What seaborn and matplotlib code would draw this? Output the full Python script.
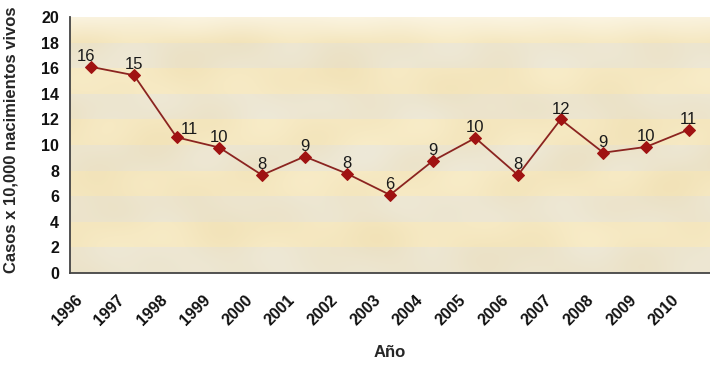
import numpy as np
import pandas as pd
import matplotlib
matplotlib.use('Agg')
import matplotlib.pyplot as plt
import seaborn as sns
from matplotlib.transforms import ScaledTranslation

years = ['1996', '1997', '1998', '1999', '2000', '2001', '2002', '2003',
         '2004', '2005', '2006', '2007', '2008', '2009', '2010']
rates = [16.1, 15.45, 10.6, 9.8, 7.65, 9.1, 7.75, 6.1,
         8.75, 10.55, 7.65, 12.0, 9.4, 9.85, 11.2]
point_labels = ['16', '15', '11', '10', '8', '9', '8', '6',
                '9', '10', '8', '12', '9', '10', '11']
y_ticks = [0, 2, 4, 6, 8, 10, 12, 14, 16, 18, 20]

sns.set_theme(style='white')
plt.rcParams['font.family'] = ['Liberation Sans', 'DejaVu Sans']

df = pd.DataFrame({'pos': np.arange(len(years)), 'rate': rates, 'year': years})

fig = plt.figure(figsize=(7.1, 3.66), dpi=100)
fig.patch.set_facecolor('white')
ax = fig.add_axes([70 / 710, 1 - 273 / 366, 640 / 710, 256 / 366])

# background: parchment with alternating bands
H, W = 256, 640
yy, xx = np.mgrid[0:H, 0:W].astype(float)
vals = 20 - (yy + 0.5) / H * 20
band = np.floor(vals / 2).astype(int)
light = np.array([248, 236, 200]) / 255
gray = np.array([238, 233, 216]) / 255
img = np.where((band % 2 == 1)[..., None], light, gray)
tex = (np.sin(xx / 37 + np.sin(yy / 23)) * np.cos(yy / 29 + xx / 61)
       + 0.6 * np.sin(xx / 17 + yy / 41) * np.sin(yy / 13 - xx / 53))
tex = (tex - tex.min()) / (tex.max() - tex.min())
tan = np.array([228, 205, 148]) / 255
img = img * (1 - 0.3 * tex[..., None]) + tan * 0.3 * tex[..., None]
fade = np.clip((vals - 18) / 2, 0, 1) * 0.5
img = img * (1 - fade[..., None]) + fade[..., None]
ax.imshow(img, extent=(-0.5, len(years) - 0.5, 0, 20), aspect='auto', zorder=0,
          interpolation='bilinear')

sns.lineplot(data=df, x='pos', y='rate', ax=ax, color='#8b2420', linewidth=1.3,
             marker='D', markersize=6, markerfacecolor='#a01212',
             markeredgecolor='#a01212', zorder=3)

# label nudges (points) for the labels that sit off-centre in the original
nudge = {0: (-4, 2), 2: (9, 0)}
for i, (v, lab) in enumerate(zip(rates, point_labels)):
    dx, dy = nudge.get(i, (0, 2))
    ax.annotate(lab, (i, v), xytext=(dx, dy), textcoords='offset points',
                ha='center', va='bottom', fontsize=12, color='#1a1a1a', zorder=4)

ax.set_xlim(-0.5, len(years) - 0.5)
ax.set_ylim(0, 20)
ax.set_yticks(y_ticks)
ax.set_yticklabels([str(t) for t in y_ticks], fontsize=11.5, fontweight='bold', color='#111111')

ax.set_xticks(np.arange(-0.5, len(years), 1))
ax.set_xticklabels([])
ax.set_xticks(np.arange(len(years)), minor=True)
ax.set_xticklabels(years, minor=True, rotation=45, ha='right', va='top',
                   rotation_mode='anchor', fontsize=11.5, fontweight='bold', color='#111111')
ax.tick_params(axis='x', which='minor', length=0, pad=14)
ax.tick_params(axis='x', which='major', length=5, width=1.2, color='#444444', direction='out')
ax.tick_params(axis='y', length=5, width=1.2, color='#444444', direction='out', pad=3)
off = ScaledTranslation(-17 / 100, 0, fig.dpi_scale_trans)
for lbl in ax.get_xticklabels(minor=True):
    lbl.set_transform(lbl.get_transform() + off)

for s in ['top', 'right']:
    ax.spines[s].set_visible(False)
for s in ['left', 'bottom']:
    ax.spines[s].set_color('#444444')
    ax.spines[s].set_linewidth(1.3)

ax.set_xlabel('Año', fontsize=12, fontweight='bold')
ax.set_ylabel('Casos x 10,000 nacimientos vivos', fontsize=12, fontweight='bold')
ax.xaxis.set_label_coords(0.5, -0.28)
ax.yaxis.set_label_coords(-51 / 640, 0.52)

fig.savefig('out.png', dpi=100)
